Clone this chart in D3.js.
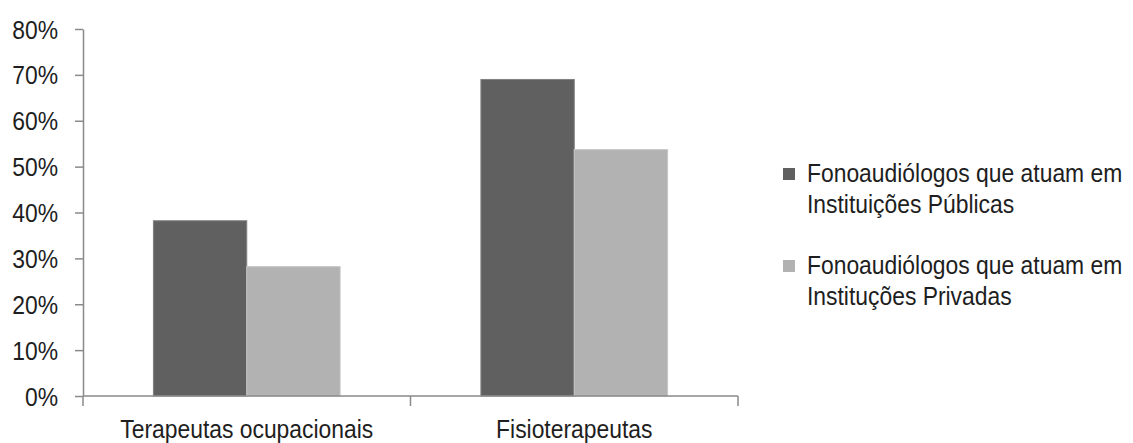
<!DOCTYPE html>
<html><head><meta charset="utf-8">
<script src="https://cdn.jsdelivr.net/npm/d3@7"></script>
<style>
body{margin:0;background:#fff;}
text{font-family:"Liberation Sans",Arial,sans-serif;fill:#1e1e1e;}
</style></head>
<body>
<svg id="c" width="1133" height="443"></svg>
<script>
const categories = ["Terapeutas ocupacionais", "Fisioterapeutas"];
const seriesNames = [
  ["Fonoaudiólogos que atuam em", "Instituições Públicas"],
  ["Fonoaudiólogos que atuam em", "Instituções Privadas"]
];
const publicas = [0.382, 0.69];
const privadas = [0.282, 0.537];
const yTicks = [0, 0.1, 0.2, 0.3, 0.4, 0.5, 0.6, 0.7, 0.8];
const colors = ["#606060", "#b2b2b2"];

const FS = 25, SX = 0.915;
const svg = d3.select("#c");
const x0 = d3.scaleBand().domain(categories).range([83, 738]).padding(0);
const keys = ["pub", "priv"];
const bw = x0.bandwidth();
const x1 = d3.scaleBand().domain(keys).range([bw * 0.215, bw * 0.785]).padding(0);
const y = d3.scaleLinear().domain([0, 0.8]).range([396, 29]);

function label(sel, x, yy, txt, anchor) {
  const g = sel.append("g").attr("transform", `translate(${x},${yy}) scale(${SX},1)`);
  g.append("text").attr("font-size", FS).attr("text-anchor", anchor || "start").text(txt);
}

// y axis
const yAxis = d3.axisLeft(y).tickValues(yTicks).tickFormat(d3.format(".0%")).tickSize(8).tickSizeOuter(0);
const gy = svg.append("g").attr("transform", "translate(83,0)").call(yAxis);
gy.select(".domain").attr("stroke", "#8a8a8a").attr("stroke-width", 1.5);
gy.selectAll(".tick line").attr("stroke", "#8a8a8a").attr("stroke-width", 1.5);
gy.selectAll(".tick text").remove();
gy.selectAll(".tick").each(function(d) {
  label(d3.select(this), -25, 9, d3.format(".0%")(d), "end");
});

// bars
const data = categories.map((c, i) => ({c, vals: [publicas[i], privadas[i]]}));
const groups = svg.append("g").selectAll("g").data(data).join("g")
  .attr("transform", d => `translate(${x0(d.c)},0)`);
groups.selectAll("rect").data(d => d.vals.map((v, j) => ({k: keys[j], v, j}))).join("rect")
  .attr("x", d => x1(d.k)).attr("width", x1.bandwidth())
  .attr("y", d => y(d.v)).attr("height", d => y(0) - y(d.v))
  .attr("fill", d => colors[d.j]).attr("stroke", d => d.j ? "#c6c6c6" : "#808080").attr("stroke-width", 1);

// x axis
const gx = svg.append("g").attr("transform", "translate(0,396)");
gx.append("line").attr("x1", 83).attr("x2", 738).attr("y1", 0).attr("y2", 0).attr("stroke", "#8a8a8a").attr("stroke-width", 1.5);
const bounds = [x0.range()[0], ...categories.map(c => x0(c) + bw)];
gx.selectAll("line.t").data(bounds).join("line").attr("class", "t")
  .attr("x1", d => d).attr("x2", d => d).attr("y1", 0).attr("y2", 10).attr("stroke", "#8a8a8a").attr("stroke-width", 1.5);
categories.forEach(c => label(gx, x0(c) + bw / 2, 42, c, "middle"));

// legend
const lg = svg.append("g");
const legY = [182, 274];
seriesNames.forEach((lines, i) => {
  lg.append("rect").attr("x", 783).attr("y", legY[i] - 14).attr("width", 12).attr("height", 12).attr("fill", colors[i]);
  lines.forEach((t, k) => label(lg, 807, legY[i] + k * 31, t, "start"));
});
</script>
</body></html>
